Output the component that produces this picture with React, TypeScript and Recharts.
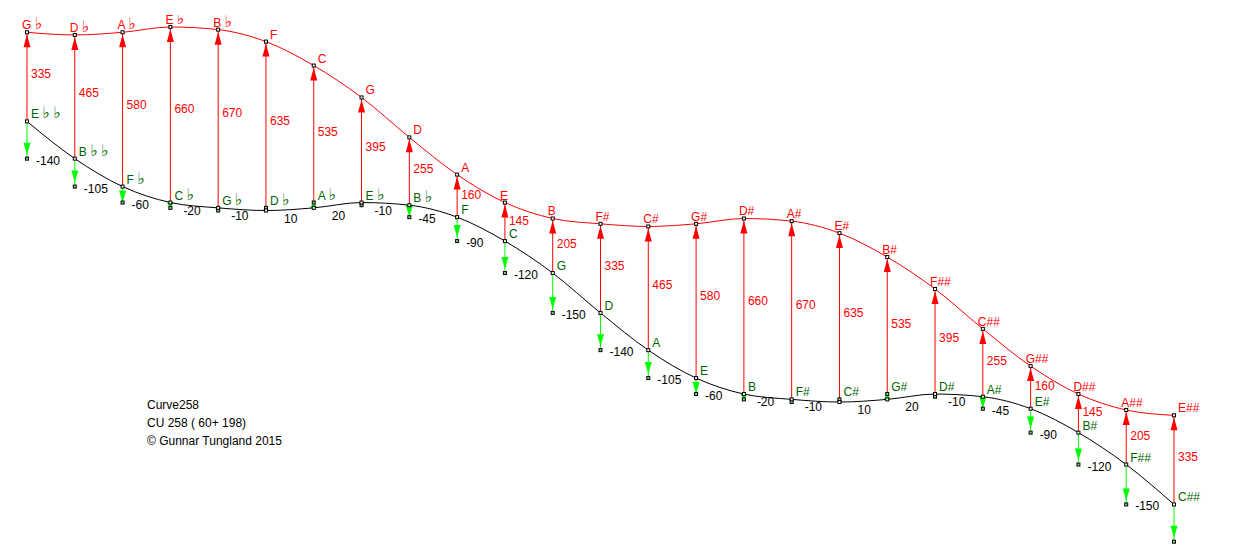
import React from 'react';
import { ComposedChart, Line, XAxis, YAxis, ReferenceLine } from 'recharts';

// Note names printed next to the red (upper) curve points
const topNotes = ['G ♭', 'D ♭', 'A ♭', 'E ♭', 'B ♭', 'F', 'C', 'G', 'D', 'A', 'E', 'B', 'F#', 'C#', 'G#', 'D#', 'A#', 'E#', 'B#', 'F##', 'C##', 'G##', 'D##', 'A##', 'E##'];
// Note names printed next to the black (lower) curve points
const baseNotes = ['E ♭ ♭', 'B ♭ ♭', 'F ♭', 'C ♭', 'G ♭', 'D ♭', 'A ♭', 'E ♭', 'B ♭', 'F', 'C', 'G', 'D', 'A', 'E', 'B', 'F#', 'C#', 'G#', 'D#', 'A#', 'E#', 'B#', 'F##', 'C##'];
// Red arrow values (black point -> red point)
const upValues = [335, 465, 580, 660, 670, 635, 535, 395, 255, 160, 145, 205, 335, 465, 580, 660, 670, 635, 535, 395, 255, 160, 145, 205, 335];
// Green arrow values (from black point)
const downValues = [-140, -105, -60, -20, -10, 10, 20, -10, -45, -90, -120, -150, -140, -105, -60, -20, -10, 10, 20, -10, -45, -90, -120, -150, -140];
// Level of the black curve points
const baseLevels = [0, -140, -245, -305, -325, -335, -325, -305, -315, -360, -450, -570, -720, -860, -965, -1025, -1045, -1055, -1045, -1025, -1035, -1080, -1170, -1290, -1440];
// Caption lines
const captionLines = ['Curve258', 'CU 258 ( 60+ 198)', '© Gunnar Tungland 2015'];

const data = baseLevels.map((b, i) => ({
  i,
  base: b,
  top: b + upValues[i],
  bottom: b + downValues[i],
}));

const FONT = '"Liberation Sans", Arial, Helvetica, sans-serif';
const RED = '#ff0000';
const LIME = '#00ff00';
const DKGREEN = '#006400';
const LAST = data.length - 1;

const noteText = (s: string) =>
  s.split('').map((c, k) =>
    c === '♭' ? (
      <tspan key={k} fontFamily='"DejaVu Sans", sans-serif' fontSize={16}>♭</tspan>
    ) : (
      <tspan key={k}>{c}</tspan>
    )
  );

const arrowHead = (x: number, tipY: number, dir: number, len: number, color: string) => {
  const hw = 3.5;
  const baseY = tipY - dir * len;
  return <polygon points={`${x},${tipY} ${x - hw},${baseY} ${x + hw},${baseY}`} fill={color} stroke="none" />;
};

const marker = (x: number, y: number, fill = '#ffffff') => (
  <rect x={x - 1.5} y={y - 1.5} width={3} height={3} fill={fill} stroke="#000" strokeWidth={1} />
);

const renderUp = (p: any, i: number) => {
  const { x1, y1, x2, y2 } = p;
  const x = x1;
  const len = Math.abs(y1 - y2);
  const labelY = y2 + 0.47 * (y1 - y2) + 4;
  return (
    <g>
      <line x1={x} y1={y1} x2={x2} y2={y2} stroke={RED} strokeWidth={1} />
      {arrowHead(x, y2 + 2, -1, Math.min(13, len - 2), RED)}
      <text x={x + 4} y={labelY} fill={RED} fontSize={12} fontFamily={FONT}>{upValues[i]}</text>
    </g>
  );
};

const renderDown = (p: any, i: number) => {
  const { x1, y1, x2, y2 } = p;
  const x = x1;
  const len = Math.abs(y2 - y1);
  const dir = y2 >= y1 ? 1 : -1; // 1 = pointing down on screen
  const v = downValues[i];
  const tipOffset = len > 16 ? 4 : 0;
  const headLen = Math.min(12, Math.max(0, len - tipOffset));
  const dx = v > 0 ? 18 : Math.abs(v) <= 20 ? 13 : 9;
  const valueY = Math.max(y2 + 6, y1 + 12);
  const noteY = Math.min(y1, y2) - 3;
  return (
    <g>
      <line x1={x} y1={y1} x2={x2} y2={y2} stroke={LIME} strokeWidth={1} />
      {headLen > 0 && arrowHead(x, y2 - dir * tipOffset, dir, headLen, LIME)}
      {marker(x, y2, '#88cc88')}
      <text x={x + 4} y={noteY} fill={DKGREEN} fontSize={12} fontFamily={FONT}>{noteText(baseNotes[i])}</text>
      {i !== LAST && (
        <text x={x + dx} y={valueY} fill="#000" fontSize={12} fontFamily={FONT}>{v}</text>
      )}
    </g>
  );
};

const topDot = (p: any) => {
  const { cx, cy, index } = p;
  const right = (index >= 5 && index <= 9) || index === LAST;
  const dx = right ? 4 : -5;
  return (
    <g key={`td${index}`}>
      {marker(cx, cy)}
      <text x={cx + dx} y={cy - 3} fill={RED} fontSize={12} fontFamily={FONT}>{noteText(topNotes[index])}</text>
    </g>
  );
};

const baseDot = (p: any) => {
  const { cx, cy, index } = p;
  return <g key={`bd${index}`}>{marker(cx, cy)}</g>;
};

export default function App() {
  return (
    <div style={{ position: 'absolute', left: 0, top: 0, width: 1238, height: 551, background: '#fff' }}>
      <ComposedChart
        width={1238}
        height={551}
        data={data}
        margin={{ top: 15, right: 64, bottom: 4, left: 27 }}
      >
        <XAxis type="number" dataKey="i" domain={[0, 24]} hide />
        <YAxis type="number" domain={[-1600, 400]} hide allowDataOverflow />
        {data.map((d) => (
          <ReferenceLine
            key={`up${d.i}`}
            segment={[{ x: d.i, y: d.base }, { x: d.i, y: d.top }]}
            ifOverflow="visible"
            stroke={RED}
            shape={(p: any) => renderUp(p, d.i)}
          />
        ))}
        {data.map((d) => (
          <ReferenceLine
            key={`dn${d.i}`}
            segment={[{ x: d.i, y: d.base }, { x: d.i, y: d.bottom }]}
            ifOverflow="visible"
            stroke={LIME}
            shape={(p: any) => renderDown(p, d.i)}
          />
        ))}
        <Line
          dataKey="base"
          type="monotone"
          stroke="#000"
          strokeWidth={1}
          dot={baseDot}
          activeDot={false}
          isAnimationActive={false}
        />
        <Line
          dataKey="top"
          type="monotone"
          stroke={RED}
          strokeWidth={1}
          dot={topDot}
          activeDot={false}
          isAnimationActive={false}
        />
      </ComposedChart>
      <svg width={1238} height={551} style={{ position: 'absolute', left: 0, top: 0, pointerEvents: 'none' }}>
        {captionLines.map((t, k) => (
          <text key={t} x={147} y={409 + k * 18} fill="#000" fontSize={12} fontFamily={FONT}>{t}</text>
        ))}
      </svg>
    </div>
  );
}
